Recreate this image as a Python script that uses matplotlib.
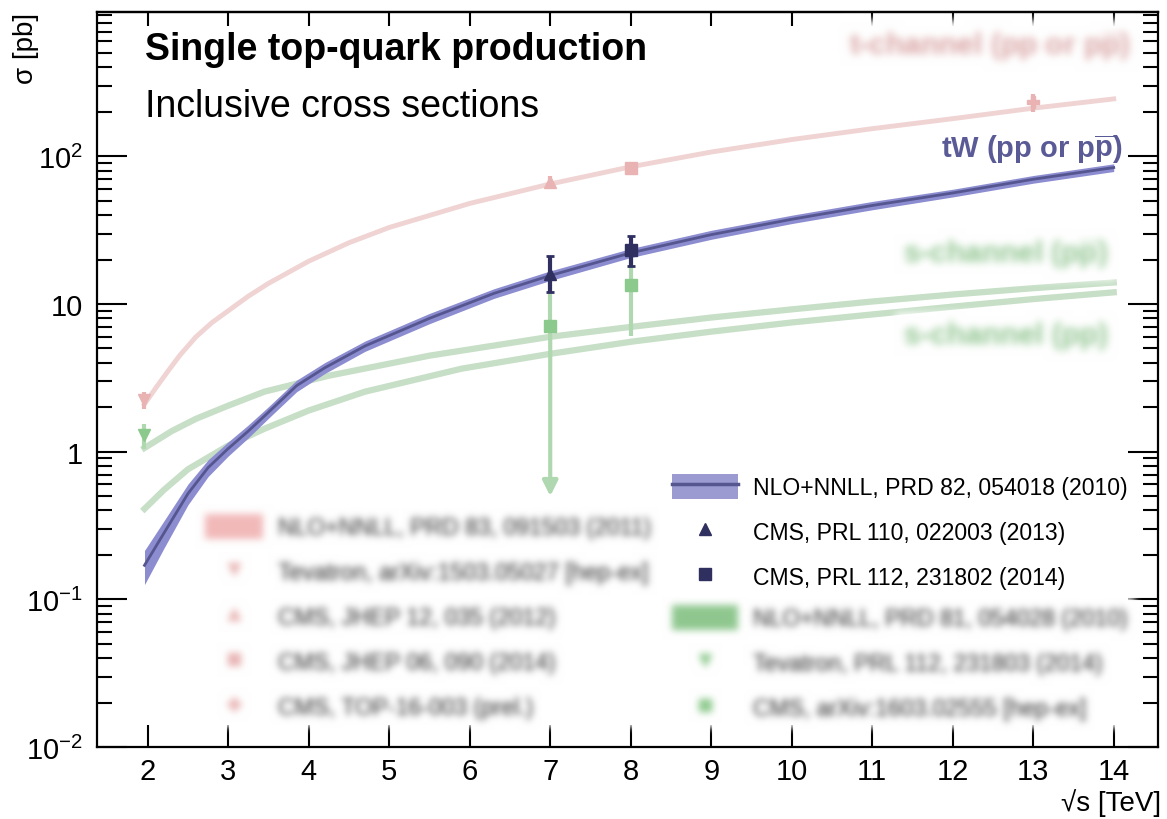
import numpy as np
import matplotlib
matplotlib.use("Agg")
import matplotlib.pyplot as plt
from matplotlib.patches import Patch
from matplotlib.lines import Line2D
from matplotlib.ticker import LogLocator, FuncFormatter, NullFormatter

plt.rcParams["font.family"] = ["Liberation Sans", "DejaVu Sans"]
plt.rcParams["mathtext.fontset"] = "custom"
plt.rcParams["mathtext.rm"] = "Liberation Sans"
plt.rcParams["mathtext.bf"] = "Liberation Sans:bold"
plt.rcParams["mathtext.it"] = "Liberation Sans:italic"

# --- theory curves ---
tch_x = [1.96, 2.1, 2.25, 2.4, 2.6, 2.8, 3.0, 3.25, 3.5, 4.0, 4.5, 5.0, 6.0, 7.0, 8.0, 9.0, 10.0,
         11.0, 12.0, 13.0, 14.0]
tch_y = [2.1, 2.7, 3.5, 4.5, 6.0, 7.5, 9.0, 11.3, 13.8, 19.5, 26, 33, 48, 65, 85, 107, 130,
         154, 180, 212, 245]

tw_x = [1.96, 2.2, 2.5, 2.75, 3.0, 3.25, 3.5, 3.85, 4.2, 4.7, 5.5, 6.3, 7.0, 8.0, 9.0, 10.0,
        11.0, 12.0, 13.0, 14.0]
tw_y = [0.17, 0.28, 0.52, 0.78, 1.05, 1.38, 1.85, 2.8, 3.7, 5.2, 8.0, 11.8, 15.6, 22.2, 29.5,
        37.5, 46.5, 56.5, 70, 84]
tw_rel = [0.26, 0.21, 0.16, 0.13, 0.11, 0.1, 0.09, 0.09, 0.085, 0.08, 0.08, 0.075, 0.075, 0.07,
          0.07, 0.065, 0.065, 0.06, 0.06, 0.06]

spp_x = [1.96, 2.3, 2.6, 3.0, 3.45, 4.25, 5.5, 7.0, 8.0, 9.0, 10.0, 11.0, 12.0, 13.0, 14.0]
spp_y = [1.06, 1.38, 1.67, 2.05, 2.55, 3.27, 4.47, 6.0, 7.0, 8.1, 9.2, 10.4, 11.6, 12.8, 14.0]

sp_x = [1.96, 2.2, 2.5, 3.0, 3.45, 4.0, 4.7, 5.9, 7.0, 8.0, 9.0, 10.0, 11.0, 12.0, 13.0, 14.0]
sp_y = [0.41, 0.55, 0.76, 1.1, 1.43, 1.9, 2.55, 3.65, 4.6, 5.55, 6.5, 7.5, 8.5, 9.6, 10.8, 12.0]

# --- measurements ---
tch_dx = [1.96, 7.0, 8.0, 13.0]
tch_dy = [2.25, 67.2, 83.6, 232]
tch_lo = [0.31, 6.1, 7.7, 31]
tch_hi = [0.29, 6.1, 7.7, 31]
tch_mk = ["v", "^", "s", "P"]

tw_dx = [7.0, 8.0]
tw_dy = [16.0, 23.4]
tw_lo = [4.0, 5.4]
tw_hi = [5.0, 5.4]
tw_mk = ["^", "s"]

s_dx = [1.96, 7.0, 8.0]
s_dy = [1.29, 7.1, 13.4]
s_lo = [0.24, 0.0, 7.3]
s_hi = [0.26, 8.1, 7.3]
s_mk = ["v", "s", "s"]
s_arrow_to = 0.5

pink_labels = ["NLO+NNLL, PRD 83, 091503 (2011)", "Tevatron, arXiv:1503.05027 [hep-ex]",
               "CMS, JHEP 12, 035 (2012)", "CMS, JHEP 06, 090 (2014)", "CMS, TOP-16-003 (prel.)"]
blue_labels = ["NLO+NNLL, PRD 82, 054018 (2010)", "CMS, PRL 110, 022003 (2013)",
               "CMS, PRL 112, 231802 (2014)"]
green_labels = ["NLO+NNLL, PRD 81, 054028 (2010)", "Tevatron, PRL 112, 231803 (2014)",
                "CMS, arXiv:1603.02555 [hep-ex]"]

pink_line = "#f0d3d3"
pink_mark = "#e9b3b3"
green_line = "#c6dfc6"
green_mark = "#8cc98c"
green_err = "#b0d8b0"
band_col = "#8c8cd0"
band_line = "#55558f"
navy = "#2f2f60"

W, H = 1167, 820


def fx(px):
    return px / W


def fy(py):
    return 1 - py / H


def blur(sigma):
    # gaussian blur on premultiplied colours, so transparent pixels don't darken edges
    def f(img, dpi):
        pad = int(3 * sigma)
        im = np.pad(img, ((pad, pad), (pad, pad), (0, 0)))
        im[..., :3] *= im[..., 3:4]
        k = np.exp(-0.5 * (np.arange(-pad, pad + 1) / sigma) ** 2)
        k /= k.sum()
        out = np.zeros_like(im)
        for i, w in enumerate(k):
            out += w * np.roll(im, i - pad, axis=0)
        out2 = np.zeros_like(out)
        for i, w in enumerate(k):
            out2 += w * np.roll(out, i - pad, axis=1)
        a = out2[..., 3:4]
        out2[..., :3] = np.where(a > 1e-4, out2[..., :3] / np.maximum(a, 1e-4), 0)
        return np.clip(out2, 0, 1), -pad, -pad
    return f


fig = plt.figure(figsize=(W / 100, H / 100), dpi=100)
ax = fig.add_axes([fx(97), fy(748), (1158 - 97) / W, (748 - 13) / H])
ax.set_yscale("log")
ax.set_xlim(1.37, 14.55)
ax.set_ylim(1e-2, 950)

# curves
ax.plot(tch_x, tch_y, color=pink_line, lw=3.5, zorder=2)
ax.plot(spp_x, spp_y, color=green_line, lw=4.5, zorder=2)
ax.plot(sp_x, sp_y, color=green_line, lw=4.5, zorder=2)
lo = np.array(tw_y) * (1 - np.array(tw_rel))
hi = np.array(tw_y) * (1 + np.array(tw_rel))
ax.fill_between(tw_x, lo, hi, color=band_col, lw=0, zorder=3)
ax.plot(tw_x, tw_y, color=band_line, lw=2, zorder=3)

# measurements
for x, y, l, h, m in zip(tch_dx, tch_dy, tch_lo, tch_hi, tch_mk):
    ax.errorbar([x], [y], yerr=[[l], [h]], fmt=m, color=pink_mark, ms=9, elinewidth=3,
                capsize=0, zorder=4)
for x, y, l, h, m in zip(s_dx, s_dy, s_lo, s_hi, s_mk):
    ax.errorbar([x], [y], yerr=[[l], [h]], fmt=m, color=green_mark, ecolor=green_err, ms=9,
                elinewidth=3, capsize=0, zorder=4)
ax.annotate("", xy=(s_dx[1], s_arrow_to), xytext=(s_dx[1], s_dy[1]),
            arrowprops=dict(arrowstyle="-|>,head_width=0.45,head_length=0.9",
                            color=green_err, lw=3, shrinkA=0, shrinkB=0), zorder=4)
for x, y, l, h, m in zip(tw_dx, tw_dy, tw_lo, tw_hi, tw_mk):
    ax.errorbar([x], [y], yerr=[[l], [h]], fmt=m, color=navy, ms=9, elinewidth=3,
                capsize=3, capthick=2, zorder=5)

# axes styling
for s in ax.spines.values():
    s.set_linewidth(1.6)
ax.set_xticks(range(2, 15))
ax.yaxis.set_major_locator(LogLocator(base=10, numticks=20))
ax.yaxis.set_minor_locator(LogLocator(base=10, subs=np.arange(2, 10), numticks=20))
ax.yaxis.set_minor_formatter(NullFormatter())


def ylab(v, pos):
    e = int(round(np.log10(v)))
    if e == 0:
        return "1"
    if e == 1:
        return "10"
    return "$10^{%d}$" % e


ax.yaxis.set_major_formatter(FuncFormatter(ylab))
ax.tick_params(axis="y", which="major", direction="in", length=21.6, width=1.5,
               left=True, right=True, labelsize=21, pad=10)
ax.tick_params(axis="y", which="minor", direction="in", length=10.8, width=1.5,
               left=True, right=True)
ax.tick_params(axis="x", which="major", direction="in", length=16, width=1.5,
               bottom=True, top=False, labelsize=21, pad=7)
ax.tick_params(axis="x", which="minor", bottom=False, top=False)
sec = ax.secondary_xaxis("top")
sec.set_xticks(range(2, 15))
sec.tick_params(direction="in", length=10, width=1.5, labeltop=False)
sec.spines["top"].set_linewidth(1.6)

fig.text(fx(26), fy(13), "σ [pb]", rotation=90, ha="center", va="top", fontsize=20)
fig.text(fx(1161), fy(803), "√s [TeV]", ha="right", va="center", fontsize=20)

# titles
ax.text(fx(145), fy(60), "Single top-quark production", transform=fig.transFigure,
        fontsize=27, fontweight="bold", va="baseline")
ax.text(fx(145), fy(117), "Inclusive cross sections", transform=fig.transFigure,
        fontsize=27, va="baseline")
ax.text(fx(1123), fy(158), r"tW (pp or p$\mathbf{\overline{p}}$)", transform=fig.transFigure,
        fontsize=21, fontweight="bold", color="#5a5a96", ha="right", va="baseline", zorder=6)

# faded (blurred) labels
box = dict(facecolor="white", edgecolor="none", pad=6)
for txt, xr, yc, col in [(r"t-channel (pp or p$\mathbf{\overline{p}}$)", 1130, 47, "#d9a2a2"),
                         (r"s-channel (p$\mathbf{\overline{p}}$)", 1108, 255, "#8fc48f"),
                         ("s-channel (pp)", 1108, 336, "#8fc48f")]:
    t = ax.text(fx(xr), fy(yc), txt, transform=fig.transFigure, fontsize=21.5,
                fontweight="bold", color=col, ha="right", va="center", bbox=box, zorder=3)
    t.set_agg_filter(blur(4))

leg_kw = dict(loc="upper left", bbox_transform=fig.transFigure, fontsize=16.6,
              handleheight=1.3, labelspacing=0.85, borderpad=0.35,
              handletextpad=0.65, borderaxespad=0, fancybox=False, framealpha=1)

pink_h = [Patch(facecolor="#f2b9b9", edgecolor="none")] + \
         [Line2D([], [], ls="none", marker=m, color=pink_mark, ms=8) for m in tch_mk]
leg1 = ax.legend(pink_h, pink_labels, bbox_to_anchor=(fx(197), fy(507)), handlelength=2.5,
                 labelcolor="#222222", **leg_kw)
leg1.get_frame().set_linewidth(0)
leg1.set_agg_filter(blur(3.6))
ax.add_artist(leg1)

green_h = [Patch(facecolor="#8fc78f", edgecolor="none")] + \
          [Line2D([], [], ls="none", marker=m, color=green_mark, ms=8) for m in ["v", "s"]]
leg3 = ax.legend(green_h, green_labels, bbox_to_anchor=(fx(664), fy(598)), handlelength=2.85,
                 labelcolor="#222222", **leg_kw)
leg3.get_frame().set_linewidth(0)
leg3.set_agg_filter(blur(3.6))
ax.add_artist(leg3)

blue_h = [(Patch(facecolor="#9b9bd2", edgecolor="none"), Line2D([], [], color=band_line, lw=2.5)),
          Line2D([], [], ls="none", marker="^", color=navy, ms=9),
          Line2D([], [], ls="none", marker="s", color=navy, ms=8)]
leg2 = ax.legend(blue_h, blue_labels, bbox_to_anchor=(fx(664), fy(467)), handlelength=2.85,
                 **leg_kw)
leg2.get_frame().set_linewidth(0)
leg2.set_zorder(7)

fig.savefig("out.png", dpi=100)
